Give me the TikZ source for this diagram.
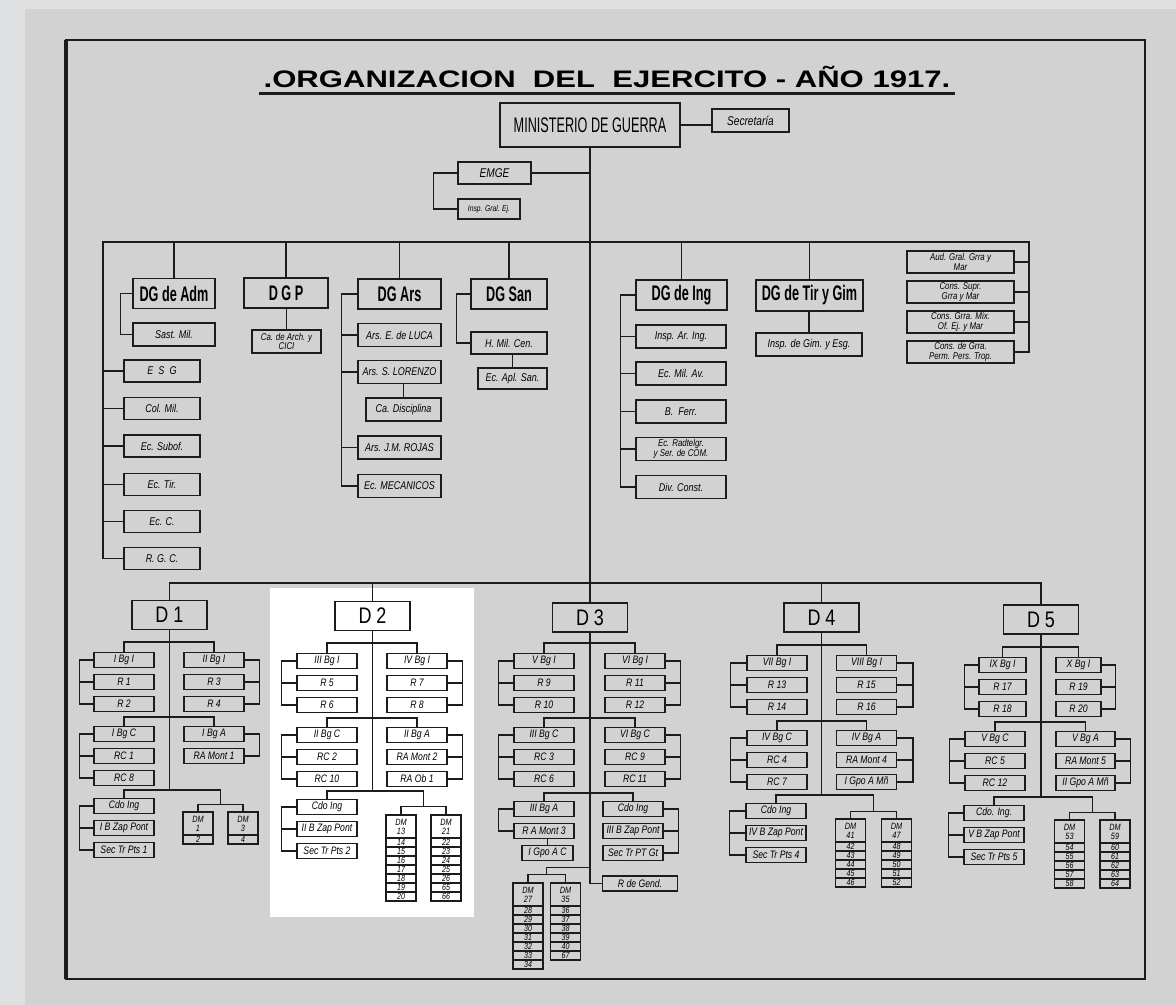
\documentclass[tikz,border=0pt]{standalone}
\usepackage{fontspec}
\usepackage{graphicx}
\setmainfont{Liberation Sans}
\newfontfamily\handfont[FakeStretch=0.8]{Liberation Sans}
\newfontfamily\dgfont[FakeStretch=0.6]{Liberation Sans}
\newfontfamily\titlefont[FakeStretch=1.3]{Liberation Sans}
\usetikzlibrary{calc, positioning}
\definecolor{paper}{RGB}{210,210,210}
\definecolor{margin}{RGB}{223,224,226}
\definecolor{ink}{RGB}{28,28,28}

\begin{document}
\begin{tikzpicture}[x=0.025cm, y=-0.025cm,
  cell/.style={rectangle, draw=ink, line width=0.9pt, inner sep=0pt, align=center},
  dirbox/.style={cell, line width=1.1pt, minimum height=0.75cm, font=\dgfont\bfseries\fontsize{15}{15}\selectfont},
  office/.style={cell, minimum height=0.55cm, font=\handfont\itshape\fontsize{8}{8.5}\selectfont},
  divbox/.style={cell, line width=1.1pt, minimum width=1.875cm, minimum height=0.725cm, font=\handfont\fontsize{16}{16}\selectfont},
  unitbox/.style={cell, minimum width=1.5cm, minimum height=0.375cm, font=\handfont\itshape\fontsize{7.7}{7.7}\selectfont},
  dmhead/.style={cell, line width=0.8pt, minimum width=0.75cm, minimum height=0.575cm, font=\handfont\itshape\fontsize{6.5}{6.5}\selectfont},
  dmrow/.style={cell, line width=0.8pt, minimum width=0.75cm, minimum height=0.225cm, font=\handfont\itshape\fontsize{6.3}{6.3}\selectfont},
  link/.style={draw=ink, line width=1pt}
]
\useasboundingbox (0,0) rectangle (1176,1005);
\fill[margin] (0,0) rectangle (1176,1005);
\fill[paper] (25,9) rectangle (1176,1005);
\fill[white] (270,588) rectangle (474,917);
\draw[ink, line width=2pt] (66,40) rectangle (1145,979);
\draw[ink, line width=3pt] (66,40) -- (66,979);

% Title
\node[font=\titlefont\bfseries\fontsize{17}{17}\selectfont] (title) at (607,77) {.ORGANIZACION\ \ DEL\ \ EJERCITO\ -\ AÑO 1917.};
\draw[ink, line width=2pt] ([yshift=-4pt]title.base west) -- ([yshift=-4pt]title.base east);

% Ministry and staff
\node[cell, line width=1.3pt, minimum width=4.5cm, minimum height=1.1cm, font=\dgfont\fontsize{15}{15}\selectfont] (min) at (590,125) {MINISTERIO DE GUERRA};
\node[office, minimum width=1.925cm, minimum height=0.575cm, font=\handfont\itshape\fontsize{9}{9}\selectfont] (secr) at (750.5,120.5) {Secretaría};
\node[office, minimum width=1.825cm, font=\handfont\itshape\fontsize{9}{9}\selectfont] (emge) at (494.5,173) {EMGE};
\node[office, minimum width=1.55cm, minimum height=0.5cm, font=\handfont\itshape\fontsize{6}{6}\selectfont] (igej) at (489,209) {Insp. Gral. Ej.};

\draw[link] (min.east) -- (min.east -| secr.west);
\draw[link] (emge.east) -- (emge.east -| min.south);
\draw[link] (emge.west) -- ++(-24,0) |- (igej.west);

% Direcciones generales
\coordinate (dgL) at (103,242);
\coordinate (dgR) at (1029,242);
\node[dirbox, minimum width=2.05cm] (adm) at (174,293.5) {DG de Adm};
\node[office, minimum width=2.05cm, minimum height=0.575cm] (sast) at (174,334.5) {Sast. Mil.};
\node[office, minimum width=1.9cm] (esg) at (162,371) {E\ \ S\ \ G};
\node[office, minimum width=1.9cm] (colmil) at (162,408.5) {Col. Mil.};
\node[office, minimum width=1.9cm] (subof) at (162,446) {Ec. Subof.};
\node[office, minimum width=1.9cm] (ectir) at (162,484.5) {Ec. Tir.};
\node[office, minimum width=1.9cm] (ecc) at (162,521.5) {Ec. C.};
\node[office, minimum width=1.9cm] (rgc) at (162,558.5) {R. G. C.};

\node[dirbox, minimum width=2.1cm] (dgp) at (286,293) {D G P};
\node[office, minimum width=1.725cm, minimum height=0.575cm, font=\handfont\itshape\fontsize{7}{7}\selectfont] (arch) at (286.5,341.5) {Ca. de Arch. y\\CICI};

\node[dirbox, minimum width=2.075cm] (ars) at (399.5,294) {DG Ars};
\node[office, minimum width=2.075cm, minimum height=0.575cm] (luca) at (399.5,335) {Ars. E. de LUCA};
\node[office, minimum width=2.075cm, minimum height=0.575cm] (lorenzo) at (399.5,372) {Ars. S. LORENZO};
\node[office, minimum width=1.875cm, minimum height=0.575cm] (disc) at (403.5,409.5) {Ca. Disciplina};
\node[office, minimum width=2.075cm, minimum height=0.575cm] (rojas) at (399.5,447.5) {Ars. J.M. ROJAS};
\node[office, minimum width=2.075cm, minimum height=0.575cm] (mecan) at (399.5,486) {Ec. MECANICOS};

\node[dirbox, minimum width=1.9cm] (san) at (509,294) {DG San};
\node[office, minimum width=1.9cm] (hmil) at (509,343) {H. Mil. Cen.};
\node[office, minimum width=1.725cm, minimum height=0.525cm] (aplsan) at (512.5,378.5) {Ec. Apl. San.};

\node[dirbox, minimum width=2.275cm] (ing) at (681.5,295) {DG de Ing};
\node[office, minimum width=2.25cm, minimum height=0.575cm] (inspar) at (681,336.5) {Insp. Ar. Ing.};
\node[office, minimum width=2.25cm, minimum height=0.575cm] (ecmil) at (681,373.5) {Ec. Mil. Av.};
\node[office, minimum width=2.25cm, minimum height=0.575cm] (bferr) at (681,411.5) {B.\ \ Ferr.};
\node[office, minimum width=2.25cm, minimum height=0.575cm, font=\handfont\itshape\fontsize{7}{7}\selectfont] (ecrad) at (681,449) {Ec. Radtelgr.\\y Ser. de COM.};
\node[office, minimum width=2.25cm, minimum height=0.575cm] (divc) at (681,487) {Div. Const.};

\node[dirbox, minimum width=2.675cm, minimum height=0.775cm] (tirgim) at (809.5,295.5) {DG de Tir y Gim};
\node[office, minimum width=2.65cm, minimum height=0.575cm] (gim) at (809,344.5) {Insp. de Gim. y Esg.};

\node[office, minimum width=2.675cm, font=\handfont\itshape\fontsize{7}{7}\selectfont] (trib1) at (960.5,262) {Aud. Gral. Grra y\\Mar};
\node[office, minimum width=2.675cm, font=\handfont\itshape\fontsize{7}{7}\selectfont] (trib2) at (960.5,292) {Cons. Supr.\\Grra y Mar};
\node[office, minimum width=2.675cm, font=\handfont\itshape\fontsize{7}{7}\selectfont] (trib3) at (960.5,322) {Cons. Grra. Mix.\\Of. Ej. y Mar};
\node[office, minimum width=2.675cm, font=\handfont\itshape\fontsize{7}{7}\selectfont] (trib4) at (960.5,352) {Cons. de Grra.\\Perm. Pers. Trop.};

\draw[link] (rgc.west) -| (dgL) -- (dgR) |- (trib4.east);
\foreach \n in {esg, colmil, subof, ectir, ecc}
  \draw[link] (\n.west) -- (\n.west -| dgL);
\foreach \n in {trib1, trib2, trib3}
  \draw[link] (\n.east) -- (\n.east -| dgR);
\foreach \n in {adm, dgp, ars, san, ing, tirgim}
  \draw[link] (\n.north) -- (\n.north |- dgL);
\draw[link] (adm.west) -- ++(-12,0) |- (sast.west);
\draw[link] (arch.north) -- (arch.north |- dgp.south);
\draw[link] (ars.west) -- ++(-16,0) |- (mecan.west);
\foreach \n in {luca, lorenzo, rojas}
  \draw[link] (\n.west) -- ++(-16,0);
\draw[link] (disc.north) -- (disc.north |- lorenzo.south);
\draw[link] (san.west) -- ++(-14,0) |- (hmil.west);
\draw[link] (aplsan.north) -- (aplsan.north |- hmil.south);
\draw[link] (ing.west) -- ++(-15,0) |- (divc.west);
\foreach \n in {inspar, ecmil, bferr, ecrad}
  \draw[link] (\n.west) -- ++(-15,0);
\draw[link] (gim.north) -- (gim.north |- tirgim.south);

% Divisiones
\coordinate (dbar) at (590,583);
\node[divbox] (d1) at (169.5,615) {D 1};
\node[divbox] (d2) at (372.5,616) {D 2};
\node[divbox] (d3) at (590,617.5) {D 3};
\node[divbox] (d4) at (821.5,617.5) {D 4};
\node[divbox] (d5) at (1041,619.5) {D 5};
\draw[link] (min.south) -- (d3.north);
\draw[link] (d1.north) |- (dbar) -| (d5.north);
\draw[link] (d2.north) -- (d2.north |- dbar);
\draw[link] (d4.north) -- (d4.north |- dbar);

% D 1
\foreach \t [count=\i] in {I Bg I, R 1, R 2}
  \node[unitbox] (d1a\i) at (124,{638+22*\i}) {\t};
\foreach \t [count=\i] in {II Bg I, R 3, R 4}
  \node[unitbox] (d1b\i) at (214,{638+22*\i}) {\t};
\foreach \t [count=\i] in {I Bg C, RC 1, RC 8}
  \node[unitbox] (d1c\i) at (124,{712+22*\i}) {\t};
\foreach \t [count=\i] in {I Bg A, RA Mont 1}
  \node[unitbox] (d1d\i) at (214,{712+22*\i}) {\t};
\foreach \t [count=\i] in {Cdo Ing, I B Zap Pont, Sec Tr Pts 1}
  \node[unitbox] (d1e\i) at (124,{784+22*\i}) {\t};
\node[dmhead] (d1m) at (198,823.5) {DM\\1};
\node[dmrow] (d1m1) at (198,839.5) {2};
\node[dmhead] (d1n) at (243,823.5) {DM\\3};
\node[dmrow] (d1n1) at (243,839.5) {4};
\draw[link] (d1a1.north) -- ++(0,-10) -| (d1b1.north);
\draw[link] (d1c1.north) -- ++(0,-9) -| (d1d1.north);
\draw[link] (d1e1.north) -- ++(0,-8) -| (d1.south);
\draw[link] (d1m.north) -- ++(0,-7) -| (d1n.north);
\draw[link] ($(d1m.north)!0.5!(d1n.north)+(0,-7)$) |- ($(d1e1.north)+(0,-8)$);
\foreach \c in {a,c,e} {
  \draw[link] (d1\c1.west) -- ++(-14,0) |- (d1\c3.west);
  \draw[link] (d1\c2.west) -- ++(-14,0);
}
\draw[link] (d1b1.east) -- ++(15,0) |- (d1b3.east);
\draw[link] (d1b2.east) -- ++(15,0);
\draw[link] (d1d1.east) -- ++(15,0) |- (d1d2.east);

% D 2
\foreach \t [count=\i] in {III Bg I, R 5, R 6}
  \node[unitbox] (d2a\i) at (327,{639+22*\i}) {\t};
\foreach \t [count=\i] in {IV Bg I, R 7, R 8}
  \node[unitbox] (d2b\i) at (417,{639+22*\i}) {\t};
\foreach \t [count=\i] in {II Bg C, RC 2, RC 10}
  \node[unitbox] (d2c\i) at (327,{713+22*\i}) {\t};
\foreach \t [count=\i] in {II Bg A, RA Mont 2, RA Ob 1}
  \node[unitbox] (d2d\i) at (417,{713+22*\i}) {\t};
\foreach \t [count=\i] in {Cdo Ing, II B Zap Pont, Sec Tr Pts 2}
  \node[unitbox] (d2e\i) at (327,{785+22*\i}) {\t};
\node[dmhead] (d2m) at (401,826.5) {DM\\13};
\foreach \n [count=\i] in {14,...,20}
  \node[dmrow] (d2m\i) at (401,{833.5+9*\i}) {\n};
\node[dmhead] (d2n) at (446,826.5) {DM\\21};
\foreach \n [count=\i] in {22,23,24,25,26,65,66}
  \node[dmrow] (d2n\i) at (446,{833.5+9*\i}) {\n};
\draw[link] (d2a1.north) -- ++(0,-10) -| (d2b1.north);
\draw[link] (d2c1.north) -- ++(0,-9) -| (d2d1.north);
\draw[link] (d2e1.north) -- ++(0,-8) -| (d2.south);
\draw[link] (d2m.north) -- ++(0,-8) -| (d2n.north);
\draw[link] ($(d2m.north)!0.5!(d2n.north)+(0,-8)$) |- ($(d2e1.north)+(0,-8)$);
\foreach \c in {a,c,e} {
  \draw[link] (d2\c1.west) -- ++(-15,0) |- (d2\c3.west);
  \draw[link] (d2\c2.west) -- ++(-15,0);
}
\foreach \c in {b,d} {
  \draw[link] (d2\c1.east) -- ++(15,0) |- (d2\c3.east);
  \draw[link] (d2\c2.east) -- ++(15,0);
}

% D 3
\foreach \t [count=\i] in {V Bg I, R 9, R 10}
  \node[unitbox] (d3a\i) at (544,{639+22*\i}) {\t};
\foreach \t [count=\i] in {VI Bg I, R 11, R 12}
  \node[unitbox] (d3b\i) at (635,{639+22*\i}) {\t};
\foreach \t [count=\i] in {III Bg C, RC 3, RC 6}
  \node[unitbox] (d3c\i) at (544,{713+22*\i}) {\t};
\foreach \t [count=\i] in {VI Bg C, RC 9, RC 11}
  \node[unitbox] (d3d\i) at (635,{713+22*\i}) {\t};
\foreach \t [count=\i] in {III Bg A, R A Mont 3}
  \node[unitbox] (d3e\i) at (544,{787+22*\i}) {\t};
\node[unitbox, minimum width=1.275cm] (d3e3) at (547.5,853) {I Gpo A C};
\foreach \t [count=\i] in {Cdo Ing, III B Zap Pont, Sec Tr PT Gt}
  \node[unitbox] (d3f\i) at (633,{787+22*\i}) {\t};
\node[unitbox, minimum width=1.875cm] (gend) at (640,883.5) {R de Gend.};
\node[dmhead] (d3m) at (528,894.5) {DM\\27};
\foreach \n [count=\i] in {28,...,34}
  \node[dmrow] (d3m\i) at (528,{901.5+9*\i}) {\n};
\node[dmhead] (d3n) at (565.5,894.5) {DM\\35};
\foreach \n [count=\i] in {36,37,38,39,40,67}
  \node[dmrow] (d3n\i) at (565.5,{901.5+9*\i}) {\n};
\draw[link] (d3.south) |- (gend.west);
\draw[link] (d3a1.north) -- ++(0,-10) -| (d3b1.north);
\draw[link] (d3c1.north) -- ++(0,-9) -| (d3d1.north);
\draw[link] (d3e1.north) -- ++(0,-8) -| (d3f1.north);
\draw[link] (d3m.north) -- ++(0,-8) -| (d3n.north);
\draw[link] ($(d3m.north)!0.5!(d3n.north)+(0,-8)$) -- ++(0,-7) -| (d3.south);
\foreach \c in {a,c} {
  \draw[link] (d3\c1.west) -- ++(-15,0) |- (d3\c3.west);
  \draw[link] (d3\c2.west) -- ++(-15,0);
}
\foreach \c in {b,d,f} {
  \draw[link] (d3\c1.east) -- ++(15,0) |- (d3\c3.east);
  \draw[link] (d3\c2.east) -- ++(15,0);
}
\draw[link] (d3e1.west) -- ++(-15,0) |- (d3e2.west);
\draw[link] (d3e3.north) -- (d3e3.north |- d3e2.south);

% D 4
\foreach \t [count=\i] in {VII Bg I, R 13, R 14}
  \node[unitbox] (d4a\i) at (777,{641+22*\i}) {\t};
\foreach \t [count=\i] in {VIII Bg I, R 15, R 16}
  \node[unitbox] (d4b\i) at (866.5,{641+22*\i}) {\t};
\foreach \t [count=\i] in {IV Bg C, RC 4, RC 7}
  \node[unitbox] (d4c\i) at (777,{716+22*\i}) {\t};
\foreach \t [count=\i] in {IV Bg A, RA Mont 4, I Gpo A Mñ}
  \node[unitbox] (d4d\i) at (866.5,{716+22*\i}) {\t};
\foreach \t [count=\i] in {Cdo Ing, IV B Zap Pont, Sec Tr Pts 4}
  \node[unitbox] (d4e\i) at (776,{789+22*\i}) {\t};
\node[dmhead] (d4m) at (850.5,830.5) {DM\\41};
\foreach \n [count=\i] in {42,...,46}
  \node[dmrow] (d4m\i) at (850.5,{837.5+9*\i}) {\n};
\node[dmhead] (d4n) at (896.5,830.5) {DM\\47};
\foreach \n [count=\i] in {48,...,52}
  \node[dmrow] (d4n\i) at (896.5,{837.5+9*\i}) {\n};
\draw[link] (d4a1.north) -- ++(0,-10) -| (d4b1.north);
\draw[link] (d4c1.north) -- ++(0,-9) -| (d4d1.north);
\draw[link] (d4e1.north) -- ++(0,-8) -| (d4.south);
\draw[link] (d4m.north) -- ++(0,-7) -| (d4n.north);
\draw[link] ($(d4m.north)!0.5!(d4n.north)+(0,-7)$) |- ($(d4e1.north)+(0,-8)$);
\foreach \c in {a,c,e} {
  \draw[link] (d4\c1.west) -- ++(-16,0) |- (d4\c3.west);
  \draw[link] (d4\c2.west) -- ++(-16,0);
}
\foreach \c in {b,d} {
  \draw[link] (d4\c1.east) -- ++(16,0) |- (d4\c3.east);
  \draw[link] (d4\c2.east) -- ++(16,0);
}

% D 5
\foreach \t [count=\i] in {IX Bg I, R 17, R 18}
  \node[unitbox, minimum width=1.175cm] (d5a\i) at (1002.5,{643+22*\i}) {\t};
\foreach \t [count=\i] in {X Bg I, R 19, R 20}
  \node[unitbox, minimum width=1.125cm] (d5b\i) at (1078.5,{643+22*\i}) {\t};
\foreach \t [count=\i] in {V Bg C, RC 5, RC 12}
  \node[unitbox] (d5c\i) at (995,{717+22*\i}) {\t};
\foreach \t [count=\i] in {V Bg A, RA Mont 5, II Gpo A Mñ}
  \node[unitbox, minimum width=1.475cm] (d5d\i) at (1085.5,{717+22*\i}) {\t};
\foreach \t [count=\i] in {Cdo. Ing., V B Zap Pont, Sec Tr Pts 5}
  \node[unitbox] (d5e\i) at (994,{791+22*\i}) {\t};
\node[dmhead] (d5m) at (1069.5,831.5) {DM\\53};
\foreach \n [count=\i] in {54,...,58}
  \node[dmrow] (d5m\i) at (1069.5,{838.5+9*\i}) {\n};
\node[dmhead] (d5n) at (1115,831.5) {DM\\59};
\foreach \n [count=\i] in {60,...,64}
  \node[dmrow] (d5n\i) at (1115,{838.5+9*\i}) {\n};
\draw[link] (d5a1.north) -- ++(0,-10) -| (d5b1.north);
\draw[link] (d5c1.north) -- ++(0,-9) -| (d5d1.north);
\draw[link] (d5e1.north) -- ++(0,-8) -| (d5.south);
\draw[link] (d5m.north) -- ++(0,-7) -| (d5n.north);
\draw[link] ($(d5m.north)!0.5!(d5n.north)+(0,-7)$) |- ($(d5e1.north)+(0,-8)$);
\draw[link] (d5a1.west) -- ++(-14,0) |- (d5a3.west);
\draw[link] (d5a2.west) -- ++(-14,0);
\draw[link] (d5b1.east) -- ++(14,0) |- (d5b3.east);
\draw[link] (d5b2.east) -- ++(14,0);
\foreach \c in {c,e} {
  \draw[link] (d5\c1.west) -- ++(-15,0) |- (d5\c3.west);
  \draw[link] (d5\c2.west) -- ++(-15,0);
}
\draw[link] (d5d1.east) -- ++(15,0) |- (d5d3.east);
\draw[link] (d5d2.east) -- ++(15,0);

\end{tikzpicture}
\end{document}
